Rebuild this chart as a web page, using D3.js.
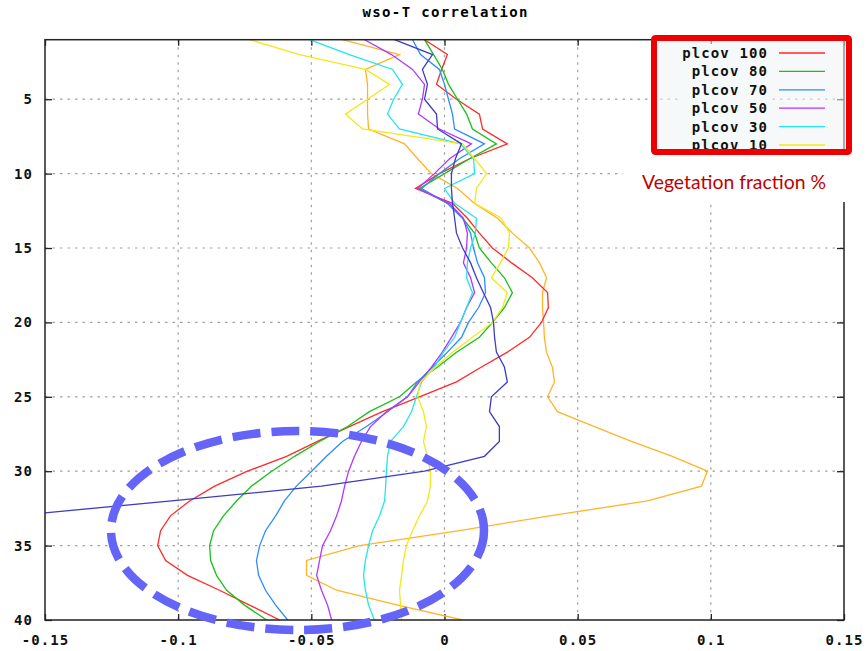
<!DOCTYPE html>
<html>
<head>
<meta charset="utf-8">
<script src="https://cdn.jsdelivr.net/npm/d3@7"></script>
<style>
  body { margin: 0; background: #fff; }
  .tick text, .lbl { font-family: "DejaVu Sans Mono", monospace; font-weight: bold; }
</style>
</head>
<body>
<div id="chart"></div>
<script>
// depth levels (y axis) and tick values
const levels = [1, 2, 3, 4, 5, 6, 7, 8, 9, 10, 11, 12, 13, 14, 15, 16, 17, 18, 19, 20,
  21, 22, 23, 24, 25, 26, 27, 28, 29, 30, 31, 32, 33, 34, 35, 36, 37, 38, 39, 40];
const xTicks = [-0.15, -0.1, -0.05, 0, 0.05, 0.1, 0.15];
const yTicks = [5, 10, 15, 20, 25, 30, 35, 40];

// correlation per level, one array per run
const plcov100 = [-0.0075, 0.0011, -0.0011, -0.003, 0.0045, 0.0131, 0.0143, 0.0236, 0.0094, -0.0019,
  -0.0109, 0.003, 0.0086, 0.0131, 0.018, 0.0252, 0.033, 0.0387, 0.039, 0.0364,
  0.0319, 0.0236, 0.0139, 0.0045, -0.0094, -0.0233, -0.0357, -0.0477, -0.0593, -0.074,
  -0.0863, -0.0957, -0.1029, -0.1066, -0.1077, -0.1047, -0.0965, -0.0845, -0.0732, -0.0619];
const plcov80 = [-0.0075, -0.0041, -0.0008, 0.0015, 0.0049, 0.0083, 0.0105, 0.0195, 0.0094, 0,
  -0.0094, 0.0011, 0.0068, 0.0113, 0.0131, 0.0176, 0.0225, 0.0255, 0.0225, 0.018,
  0.0131, 0.0045, -0.0026, -0.0105, -0.0169, -0.0282, -0.0364, -0.0469, -0.0563, -0.0649,
  -0.0724, -0.0781, -0.083, -0.0867, -0.0882, -0.0878, -0.0856, -0.0818, -0.0751, -0.0668];
const plcov70 = [-0.012, -0.009, -0.0019, 0, 0.0015, 0.003, 0.0038, 0.015, 0.0056, -0.0019,
  -0.0086, 0.0011, 0.0068, 0.0098, 0.0109, 0.0124, 0.015, 0.0154, 0.0128, 0.009,
  0.0064, 0.0011, -0.0045, -0.0101, -0.0139, -0.0214, -0.0293, -0.0383, -0.0443, -0.0499,
  -0.0556, -0.0601, -0.0634, -0.0672, -0.0694, -0.0706, -0.0698, -0.0672, -0.0634, -0.0589];
const plcov50 = [-0.03, -0.0199, -0.012, -0.0075, -0.0083, -0.0098, -0.0019, 0.0101, 0.0019, -0.0038,
  -0.0101, 0.0019, 0.0071, 0.0086, 0.0083, 0.0071, 0.0098, 0.0113, 0.0083, 0.006,
  0.0026, -0.0008, -0.0049, -0.0094, -0.0139, -0.0218, -0.0278, -0.0312, -0.0338, -0.036,
  -0.0375, -0.0387, -0.0405, -0.0428, -0.0458, -0.0469, -0.048, -0.0462, -0.0439, -0.0424];
const plcov30 = [-0.0507, -0.0357, -0.0195, -0.0158, -0.0191, -0.0214, -0.0169, 0.006, 0.0109, 0.0113,
  0, 0.0038, 0.012, 0.0116, 0.0098, 0.0086, 0.0083, 0.0105, 0.0083, 0.006,
  0.0038, -0.0004, -0.0038, -0.0086, -0.0105, -0.0124, -0.0154, -0.0203, -0.0214, -0.0218,
  -0.0221, -0.0225, -0.0244, -0.027, -0.0285, -0.0297, -0.0304, -0.0297, -0.0285, -0.0263];
const plcov10 = [-0.0732, -0.0544, -0.0297, -0.0206, -0.0289, -0.0372, -0.0308, 0.0068, 0.0113, 0.0158,
  0.012, 0.0113, 0.0214, 0.0244, 0.024, 0.021, 0.0176, 0.0236, 0.0218, 0.018,
  0.0105, 0.003, -0.0034, -0.009, -0.0101, -0.0079, -0.0068, -0.0079, -0.0064, -0.0053,
  -0.0053, -0.0064, -0.0094, -0.012, -0.0143, -0.0154, -0.0161, -0.0169, -0.0165, -0.0161];
// two more runs whose legend entries are hidden under the annotation box
const hiddenOrange = [-0.0383, -0.0169, -0.0297, -0.0289, -0.0289, -0.0289, -0.0285, -0.015, -0.0101, -0.0049,
  0.0049, 0.0113, 0.0199, 0.0255, 0.0319, 0.0357, 0.0383, 0.0368, 0.0368, 0.0372,
  0.0375, 0.0383, 0.0405, 0.0413, 0.0387, 0.0424, 0.0563, 0.0702, 0.0856, 0.0987,
  0.0965, 0.0762, 0.0394, 0.0056, -0.0319, -0.0518, -0.0518, -0.0405, -0.0176, 0.0068];
const hiddenNavy = [-0.0188, -0.0045, -0.0083, -0.0064, -0.0075, -0.003, -0.0026, 0.0064, 0.0041, 0.0026,
  0.0026, 0.003, 0.0038, 0.0045, 0.0068, 0.0098, 0.012, 0.0146, 0.0173, 0.0184,
  0.0188, 0.0195, 0.0225, 0.0236, 0.0176, 0.0169, 0.0206, 0.0206, 0.015, -0.0075,
  -0.0462, -0.1025, -0.1622];

const seriesNames = ["plcov 100", "plcov 80", "plcov 70", "plcov 50", "plcov 30", "plcov 10"];

const series = [
  { name: "", values: hiddenOrange, color: "#ffb428" },
  { name: seriesNames[0], values: plcov100, color: "#ff2a2a" },
  { name: seriesNames[1], values: plcov80, color: "#18c018" },
  { name: seriesNames[2], values: plcov70, color: "#2b8cff" },
  { name: seriesNames[3], values: plcov50, color: "#b435ff" },
  { name: seriesNames[4], values: plcov30, color: "#22e6ee" },
  { name: seriesNames[5], values: plcov10, color: "#f2e81a" },
  { name: "", values: hiddenNavy, color: "#3c3cc4" }
];

const width = 868, height = 651;
const plot = { left: 45, right: 844, top: 39.7, bottom: 620 };

const svg = d3.select("#chart").append("svg")
  .attr("width", width).attr("height", height);

const x = d3.scaleLinear().domain([-0.15, 0.15]).range([plot.left, plot.right]);
const y = d3.scaleLinear().domain([1, 40]).range([plot.top, plot.bottom]);

// title
svg.append("text").attr("class", "lbl")
  .attr("x", 445).attr("y", 17)
  .attr("text-anchor", "middle")
  .attr("font-size", 14)
  .attr("textLength", 165)
  .text("wso-T correlation");

// grid
const grid = svg.append("g").attr("stroke", "#a0a0a0").attr("stroke-width", 1.2)
  .attr("stroke-dasharray", "2.5,5");
grid.selectAll("line.gx").data(xTicks.slice(1, -1)).join("line")
  .attr("x1", d => x(d)).attr("x2", d => x(d))
  .attr("y1", plot.top).attr("y2", plot.bottom);
grid.selectAll("line.gy").data(yTicks.slice(0, -1)).join("line")
  .attr("y1", d => y(d)).attr("y2", d => y(d))
  .attr("x1", plot.left).attr("x2", plot.right);

// axes
const fmt = d => String(d);
const axisStyle = g => {
  g.select(".domain").remove();
  g.selectAll(".tick line").attr("stroke", "#222").attr("stroke-width", 1.3);
  g.selectAll(".tick text").attr("font-size", 14).attr("fill", "#111")
    .style("letter-spacing", "1.1px");
};
svg.append("g").attr("transform", `translate(0,${plot.bottom})`)
  .call(d3.axisBottom(x).tickValues(xTicks).tickFormat(fmt).tickSize(-6).tickPadding(15))
  .call(axisStyle);
svg.append("g").attr("transform", `translate(0,${plot.top})`)
  .call(d3.axisTop(x).tickValues(xTicks).tickFormat("").tickSize(-6))
  .call(axisStyle);
svg.append("g").attr("transform", `translate(${plot.left},0)`)
  .call(d3.axisLeft(y).tickValues(yTicks).tickFormat(fmt).tickSize(-7).tickPadding(12))
  .call(axisStyle);
svg.append("g").attr("transform", `translate(${plot.right},0)`)
  .call(d3.axisRight(y).tickValues(yTicks).tickFormat("").tickSize(-7))
  .call(axisStyle);

// lines
svg.append("clipPath").attr("id", "clip").append("rect")
  .attr("x", plot.left).attr("y", plot.top)
  .attr("width", plot.right - plot.left).attr("height", plot.bottom - plot.top);

const line = d3.line()
  .x(d => x(d.v))
  .y(d => y(d.lev));

svg.append("g").attr("clip-path", "url(#clip)")
  .selectAll("path").data(series).join("path")
  .attr("d", s => line(s.values.map((v, i) => ({ v, lev: levels[i] }))))
  .attr("fill", "none")
  .attr("stroke", s => s.color)
  .attr("stroke-width", 1.3);

// border
svg.append("rect")
  .attr("x", plot.left).attr("y", plot.top)
  .attr("width", plot.right - plot.left).attr("height", plot.bottom - plot.top)
  .attr("fill", "none").attr("stroke", "#222").attr("stroke-width", 1.5);

// annotation box around the legend
const box = { x: 654, y: 38, w: 195, h: 114 };
svg.append("rect").attr("x", 623).attr("y", 155).attr("width", 235).attr("height", 47)
  .attr("fill", "#fff");
svg.append("rect").attr("x", box.x).attr("y", box.y).attr("width", box.w).attr("height", box.h)
  .attr("fill", "#eef3f4").attr("fill-opacity", 0.55);
svg.append("rect").attr("x", 678).attr("y", 44).attr("width", 92).attr("height", 106)
  .attr("fill", "#f6f9f9");

svg.append("clipPath").attr("id", "legclip").append("rect")
  .attr("x", box.x).attr("y", box.y).attr("width", box.w).attr("height", box.h);

const legend = svg.append("g").attr("clip-path", "url(#legclip)")
  .selectAll("g").data(series.filter(s => s.name)).join("g")
  .attr("transform", (d, i) => `translate(0,${53 + i * 18.4})`);
legend.append("text").attr("class", "lbl")
  .attr("x", 768).attr("dy", "0.35em")
  .attr("text-anchor", "end")
  .attr("font-size", 14)
  .style("letter-spacing", "1.1px")
  .attr("fill", "#111")
  .text(d => d.name);
legend.append("line")
  .attr("x1", 779).attr("x2", 825)
  .attr("stroke", d => d.color).attr("stroke-width", 1.3);

svg.append("rect").attr("x", box.x).attr("y", box.y).attr("width", box.w).attr("height", box.h)
  .attr("fill", "none").attr("stroke", "#ee0000").attr("stroke-width", 6)
  .attr("rx", 1.5);

svg.append("text")
  .attr("x", 642).attr("y", 189)
  .attr("font-family", "Lato, 'Open Sans', sans-serif")
  .attr("font-size", 19)
  .attr("fill", "#c00000")
  .attr("textLength", 184)
  .attr("lengthAdjust", "spacingAndGlyphs")
  .text("Vegetation fraction %");

// dashed ellipse highlighting the lower levels
svg.append("ellipse")
  .attr("cx", 297.5).attr("cy", 530.5)
  .attr("rx", 186.5).attr("ry", 99.5)
  .attr("fill", "none")
  .attr("stroke", "#6464f8")
  .attr("stroke-width", 8.5)
  .attr("stroke-dasharray", "28,11");
</script>
</body>
</html>
